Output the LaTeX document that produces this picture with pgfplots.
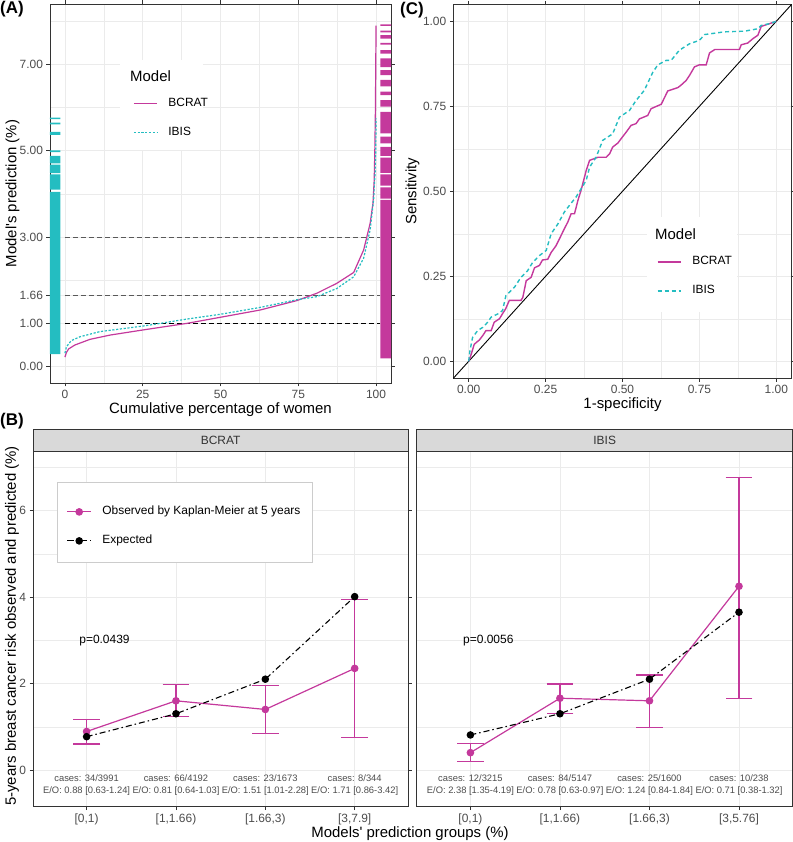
\documentclass[border=0pt]{standalone}
\usepackage{pgfplots}
\pgfplotsset{compat=1.18}
\usepackage{fontspec}
\setmainfont{Liberation Sans}

\definecolor{bcrat}{RGB}{196,57,156}
\definecolor{ibis}{RGB}{36,189,193}
\definecolor{grid92}{gray}{0.92}
\definecolor{grey20}{gray}{0.2}
\definecolor{grey30}{gray}{0.3}
\definecolor{grey85}{gray}{0.85}

\newcommand\tickfont{\fontsize{12}{14}\selectfont}
\newcommand\titlefont{\fontsize{15}{18}\selectfont}
\newcommand\legfont{\fontsize{12}{14}\selectfont}
\newcommand\legtitle{\fontsize{15}{18}\selectfont}
\newcommand\notefont{\fontsize{9.4}{11}\selectfont}
\newcommand\panelfont{\fontsize{17}{20}\selectfont\bfseries}

\pgfplotsset{
  gg/.style={
    scale only axis,
    axis line style={grey20, line width=0.6bp},
    tick style={grey20, line width=0.6bp},
    tick align=outside,
    major tick length=3.5bp,
    minor tick length=0pt,
    major grid style={grid92, line width=0.8bp},
    minor grid style={grid92, line width=0.4bp},
    ticklabel style={font=\tickfont, text=grey30},
    label style={font=\titlefont},
    legend cell align=left,
    legend style={draw=none, fill=none, inner sep=0pt, font=\legfont,
      row sep=17bp, nodes={inner sep=0pt, text height=9bp, text depth=3bp},
      /tikz/every odd column/.append style={column sep=11bp}},
  },
  lineleg/.style={legend image code/.code={\draw[##1] (0bp,0bp) -- (23bp,0bp);}},
  markleg/.style={legend image code/.code={\draw[mark repeat=2,mark phase=2,##1] plot coordinates {(0bp,0bp) (11.7bp,0bp) (23.3bp,0bp)};}},
  obs/.style={bcrat, line width=1.2bp, mark=*, mark size=3.2bp,
    error bars/.cd, y dir=both, y explicit, error mark=|,
    error bar style={bcrat, line width=1.3bp},
    error mark options={bcrat, line width=1.3bp, mark size=13.4bp}},
  expd/.style={black, line width=1.1bp, dash pattern=on 6bp off 3bp on 1.5bp off 3bp,
    mark=*, mark size=3.2bp, mark options={solid}},
}

\begin{document}
\begin{tikzpicture}
\useasboundingbox (0,0) rectangle (793bp,842bp);

% ---------------- (A) sorted predictions
\begin{axis}[gg, lineleg,
  at={(50bp,459bp)}, anchor=south west, width=341bp, height=379bp,
  xmin=-4.8, xmax=104.8, ymin=-0.38, ymax=8.4,
  xtick={0,25,50,75,100}, xticklabels={0,25,50,75,100},
  minor xtick={12.5,37.5,62.5,87.5},
  ytick={0,1,1.66,3,5,7}, yticklabels={0.00,1.00,1.66,3.00,5.00,7.00},
  minor ytick={2,4,6,8},
  grid=both,
  xlabel={Cumulative percentage of women},
  ylabel={Model\textquotesingle s prediction (\%)},
  xlabel style={at={(axis description cs:0.5,-0.069)}, anchor=center},
  ylabel style={at={(axis description cs:-0.11,0.5)}, anchor=center},
  legend style={at={(0.2434,0.7546)}, anchor=north west},
]
\fill[white] (rel axis cs:0.2053,0.6148) rectangle (rel axis cs:0.4487,0.8522);
\node[anchor=west, inner sep=0pt, font=\legtitle] at (rel axis cs:0.2346,0.810) {Model};

% rugs
\addplot[fill=ibis, draw=none, forget plot, unbounded coords=jump] coordinates {
 (-4.8,0.29) (-1.5,0.29) (-1.5,4.05) (-4.8,4.05) (nan,nan)
 (-4.8,4.10) (-1.5,4.10) (-1.5,4.45) (-4.8,4.45) (nan,nan)
 (-4.8,4.48) (-1.5,4.48) (-1.5,4.68) (-4.8,4.68) (nan,nan)
 (-4.8,4.71) (-1.5,4.71) (-1.5,4.88) (-4.8,4.88) (nan,nan)
 (-4.8,4.97) (-1.5,4.97) (-1.5,5.01) (-4.8,5.01) (nan,nan)
 (-4.8,5.37) (-1.5,5.37) (-1.5,5.44) (-4.8,5.44) (nan,nan)
 (-4.8,5.61) (-1.5,5.61) (-1.5,5.65) (-4.8,5.65) (nan,nan)
 (-4.8,5.73) (-1.5,5.73) (-1.5,5.77) (-4.8,5.77)
};
\addplot[fill=bcrat, draw=none, forget plot, unbounded coords=jump] coordinates {
 (101.4,0.19) (104.8,0.19) (104.8,3.86) (101.4,3.86) (nan,nan)
 (101.4,3.89) (104.8,3.89) (104.8,4.15) (101.4,4.15) (nan,nan)
 (101.4,4.19) (104.8,4.19) (104.8,4.45) (101.4,4.45) (nan,nan)
 (101.4,4.49) (104.8,4.49) (104.8,4.84) (101.4,4.84) (nan,nan)
 (101.4,4.88) (104.8,4.88) (104.8,5.09) (101.4,5.09) (nan,nan)
 (101.4,5.17) (104.8,5.17) (104.8,5.33) (101.4,5.33) (nan,nan)
 (101.4,5.40) (104.8,5.40) (104.8,5.90) (101.4,5.90) (nan,nan)
 (101.4,6.02) (104.8,6.02) (104.8,6.17) (101.4,6.17) (nan,nan)
 (101.4,6.29) (104.8,6.29) (104.8,6.37) (101.4,6.37) (nan,nan)
 (101.4,6.49) (104.8,6.49) (104.8,6.64) (101.4,6.64) (nan,nan)
 (101.4,6.75) (104.8,6.75) (104.8,6.87) (101.4,6.87) (nan,nan)
 (101.4,6.94) (104.8,6.94) (104.8,7.14) (101.4,7.14) (nan,nan)
 (101.4,7.25) (104.8,7.25) (104.8,7.33) (101.4,7.33) (nan,nan)
 (101.4,7.46) (104.8,7.46) (104.8,7.50) (101.4,7.50) (nan,nan)
 (101.4,7.60) (104.8,7.60) (104.8,7.68) (101.4,7.68) (nan,nan)
 (101.4,7.74) (104.8,7.74) (104.8,7.78) (101.4,7.78) (nan,nan)
 (101.4,7.89) (104.8,7.89) (104.8,7.93) (101.4,7.93)
};

% reference cut-offs
\addplot[black, line width=0.8bp, dash pattern=on 5bp off 3bp, forget plot] coordinates {(0,1) (101.4,1)};
\addplot[gray!70!black, line width=0.8bp, dash pattern=on 5bp off 3bp, forget plot] coordinates {(0,1.66) (101.4,1.66)};
\addplot[gray!70!black, line width=0.8bp, dash pattern=on 5bp off 3bp, forget plot] coordinates {(0,3) (101.4,3)};

\addplot[bcrat, line width=1.2bp] coordinates {
 (0,0.22) (0.5,0.33) (1.2,0.41) (3.2,0.50) (8.0,0.63) (14.5,0.73) (25.2,0.85)
 (39.1,1.00) (49.8,1.14) (62.7,1.31) (74.6,1.53) (81,1.70) (87.4,1.93)
 (92.8,2.18) (96,2.70) (98.1,3.32) (99,3.78) (99.4,4.32) (99.6,5.0)
 (99.8,6.0) (99.9,7.0) (100,7.9)};
\addlegendentry{BCRAT}
\addplot[ibis, line width=1.2bp, dash pattern=on 2.2bp off 1.6bp] coordinates {
 (0,0.31) (0.5,0.46) (2,0.60) (4.8,0.69) (11.2,0.81) (25.2,0.94) (30.6,1.00)
 (39.1,1.10) (49.8,1.21) (62.7,1.37) (74.6,1.55) (81,1.62) (87.4,1.81)
 (92.8,2.08) (96,2.51) (98.1,3.17) (99.2,3.86) (99.7,4.5) (99.9,5.0) (100,5.75)};
\addlegendentry{IBIS}
\end{axis}

% ---------------- (C) ROC
\begin{axis}[gg, lineleg,
  at={(453.3bp,463.7bp)}, anchor=south west, width=338.4bp, height=374bp,
  xmin=-0.05, xmax=1.05, ymin=-0.05, ymax=1.05,
  xtick={0,0.25,0.5,0.75,1}, xticklabels={0.00,0.25,0.50,0.75,1.00},
  ytick={0,0.25,0.5,0.75,1}, yticklabels={0.00,0.25,0.50,0.75,1.00},
  minor xtick={0.125,0.375,0.625,0.875}, minor ytick={0.125,0.375,0.625,0.875},
  grid=both,
  xlabel={1-specificity}, ylabel={Sensitivity},
  xlabel style={at={(axis description cs:0.5,-0.0714)}, anchor=center},
  ylabel style={at={(axis description cs:-0.1206,0.5)}, anchor=center},
  legend style={at={(0.601,0.3278)}, anchor=north west},
]
\fill[white] (rel axis cs:0.5715,0.1781) rectangle (rel axis cs:0.8375,0.4321);
\node[anchor=west, inner sep=0pt, font=\legtitle] at (rel axis cs:0.596,0.3858) {Model};
\addplot[black, line width=0.9bp, forget plot] coordinates {(-0.1,-0.1) (1.1,1.1)};
\addplot[bcrat, line width=1.4bp] coordinates {
 (0,0) (0.008,0.02) (0.018,0.05) (0.035,0.063) (0.046,0.076) (0.056,0.09)
 (0.073,0.09) (0.083,0.115) (0.10,0.125) (0.11,0.14) (0.12,0.154) (0.132,0.179)
 (0.17,0.179) (0.176,0.188) (0.187,0.237) (0.203,0.247) (0.214,0.275) (0.23,0.282)
 (0.24,0.298) (0.257,0.30) (0.268,0.32) (0.284,0.34) (0.295,0.36) (0.311,0.39)
 (0.322,0.409) (0.333,0.434) (0.344,0.434) (0.355,0.473) (0.365,0.502)
 (0.382,0.561) (0.393,0.591) (0.42,0.60) (0.447,0.60) (0.458,0.61) (0.468,0.63)
 (0.485,0.642) (0.50,0.66) (0.512,0.674) (0.528,0.694) (0.544,0.699) (0.555,0.713)
 (0.582,0.723) (0.593,0.743) (0.626,0.756) (0.647,0.795) (0.68,0.805) (0.69,0.812)
 (0.707,0.826) (0.718,0.841) (0.734,0.866) (0.75,0.872) (0.772,0.872) (0.783,0.907)
 (0.80,0.917) (0.88,0.917) (0.886,0.931) (0.907,0.936) (0.924,0.949) (0.94,0.959)
 (0.951,0.985) (0.978,0.993) (1,1)};
\addlegendentry{BCRAT}
\addplot[ibis, line width=1.4bp, dash pattern=on 4bp off 3bp] coordinates {
 (0,0) (0.004,0.031) (0.013,0.071) (0.029,0.09) (0.046,0.10) (0.062,0.115)
 (0.073,0.13) (0.094,0.139) (0.11,0.149) (0.121,0.193) (0.149,0.218) (0.17,0.247)
 (0.192,0.267) (0.208,0.291) (0.23,0.311) (0.252,0.326) (0.268,0.375) (0.29,0.404)
 (0.311,0.439) (0.327,0.458) (0.349,0.483) (0.365,0.507) (0.382,0.532) (0.393,0.571)
 (0.414,0.60) (0.436,0.65) (0.468,0.669) (0.49,0.718) (0.523,0.738) (0.544,0.767)
 (0.571,0.797) (0.599,0.851) (0.615,0.872) (0.642,0.885) (0.658,0.885) (0.685,0.915)
 (0.718,0.934) (0.75,0.944) (0.767,0.961) (0.832,0.969) (0.897,0.971) (0.94,0.978)
 (0.951,0.988) (0.978,0.993) (1,1)};
\addlegendentry{IBIS}
\end{axis}

% ---------------- (B) calibration, BCRAT
\begin{axis}[gg, markleg,
  at={(33bp,35.3bp)}, anchor=south west, width=375.3bp, height=355.7bp,
  xmin=-0.6, xmax=3.6, ymin=-0.85, ymax=7.38,
  xtick={0,1,2,3}, xticklabels={{[0,1)},{[1,1.66)},{[1.66,3)},{[3,7.9]}},
  xticklabel style={yshift=-0.5bp},
  ytick={0,2,4,6}, yticklabels={0,2,4,6}, minor ytick={1,3,5,7},
  xmajorgrids, ymajorgrids, yminorgrids,
  ylabel={5-years breast cancer risk observed and predicted (\%)},
  ylabel style={at={(axis description cs:-0.056,0.508)}, anchor=center},
  legend style={at={(0.0898,0.8462)}, anchor=north west},
]
\draw[gray!40, fill=white, line width=0.6bp] (rel axis cs:0.0639,0.9109) rectangle (rel axis cs:0.7434,0.6871);
\addplot[obs] coordinates {
 (0,0.89) += (0,0.27) -= (0,0.29)
 (1,1.60) += (0,0.37) -= (0,0.37)
 (2,1.40) += (0,0.55) -= (0,0.56)
 (3,2.35) += (0,1.59) -= (0,1.60)};
\addlegendentry{Observed by Kaplan-Meier at 5 years}
\addplot[expd] coordinates {(0,0.77) (1,1.30) (2,2.10) (3,4.01)};
\addlegendentry{Expected}
\node[font=\legfont] at (axis cs:0.2,3.0) {p=0.0439};
\node[font=\notefont, text=grey30] at (axis cs:0,-0.19) {cases: 34/3991};
\node[font=\notefont, text=grey30] at (axis cs:1,-0.19) {cases: 66/4192};
\node[font=\notefont, text=grey30] at (axis cs:2,-0.19) {cases: 23/1673};
\node[font=\notefont, text=grey30] at (axis cs:3,-0.19) {cases: 8/344};
\node[font=\notefont, text=grey30] at (axis cs:0,-0.50) {E/O: 0.88 [0.63-1.24]};
\node[font=\notefont, text=grey30] at (axis cs:1,-0.50) {E/O: 0.81 [0.64-1.03]};
\node[font=\notefont, text=grey30] at (axis cs:2,-0.50) {E/O: 1.51 [1.01-2.28]};
\node[font=\notefont, text=grey30] at (axis cs:3,-0.50) {E/O: 1.71 [0.86-3.42]};
\end{axis}

% ---------------- (B) calibration, IBIS
\begin{axis}[gg,
  at={(416.7bp,35.3bp)}, anchor=south west, width=376bp, height=355.7bp,
  xmin=-0.6, xmax=3.6, ymin=-0.85, ymax=7.38,
  xtick={0,1,2,3}, xticklabels={{[0,1)},{[1,1.66)},{[1.66,3)},{[3,5.76]}},
  xticklabel style={yshift=-0.5bp},
  ytick={0,2,4,6}, yticklabels={}, minor ytick={1,3,5,7},
  ytick style={draw=none},
  xmajorgrids, ymajorgrids, yminorgrids,
]
\addplot[obs] coordinates {
 (0,0.40) += (0,0.22) -= (0,0.21)
 (1,1.66) += (0,0.33) -= (0,0.35)
 (2,1.60) += (0,0.60) -= (0,0.62)
 (3,4.25) += (0,2.52) -= (0,2.59)};
\addplot[expd] coordinates {(0,0.81) (1,1.30) (2,2.10) (3,3.65)};
\node[font=\legfont] at (axis cs:0.2,3.0) {p=0.0056};
\node[font=\notefont, text=grey30] at (axis cs:0,-0.19) {cases: 12/3215};
\node[font=\notefont, text=grey30] at (axis cs:1,-0.19) {cases: 84/5147};
\node[font=\notefont, text=grey30] at (axis cs:2,-0.19) {cases: 25/1600};
\node[font=\notefont, text=grey30] at (axis cs:3,-0.19) {cases: 10/238};
\node[font=\notefont, text=grey30] at (axis cs:0,-0.50) {E/O: 2.38 [1.35-4.19]};
\node[font=\notefont, text=grey30] at (axis cs:1,-0.50) {E/O: 0.78 [0.63-0.97]};
\node[font=\notefont, text=grey30] at (axis cs:2,-0.50) {E/O: 1.24 [0.84-1.84]};
\node[font=\notefont, text=grey30] at (axis cs:3,-0.50) {E/O: 0.71 [0.38-1.32]};
\end{axis}

% facet strips
\draw[grey20, fill=grey85, line width=0.6bp] (33bp,391bp) rectangle (408.3bp,412.7bp);
\node[font=\legfont, text=grey20] at (220.6bp,401.8bp) {BCRAT};
\draw[grey20, fill=grey85, line width=0.6bp] (416.7bp,391bp) rectangle (792.7bp,412.7bp);
\node[font=\legfont, text=grey20] at (604.7bp,401.8bp) {IBIS};

\node[font=\titlefont, inner sep=0pt] at (410bp,8bp) {Models\textquotesingle\ prediction groups (\%)};

% panel tags
\node[font=\panelfont, anchor=north west, inner sep=0pt] at (0bp,841bp) {(A)};
\node[font=\panelfont, anchor=north west, inner sep=0pt] at (400bp,840bp) {(C)};
\node[font=\panelfont, anchor=north west, inner sep=0pt] at (0bp,429bp) {(B)};
\end{tikzpicture}
\end{document}
